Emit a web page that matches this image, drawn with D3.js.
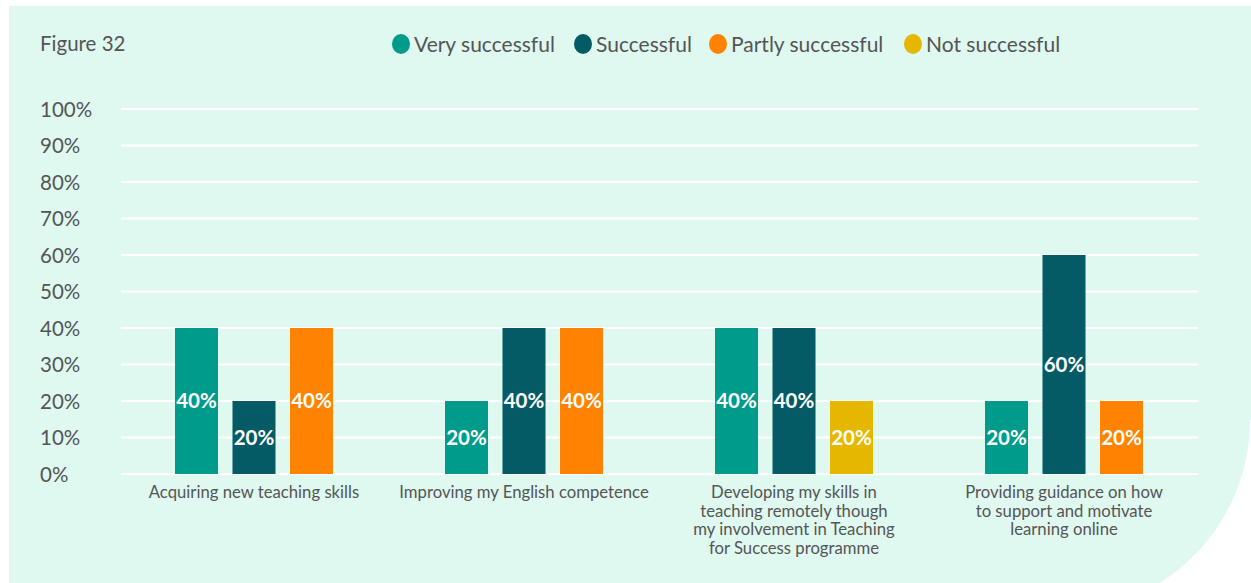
<!DOCTYPE html>
<html>
<head>
<meta charset="utf-8">
<script src="https://cdn.jsdelivr.net/npm/d3@7"></script>
<style>
  html, body { margin: 0; padding: 0; background: #ffffff; }
  svg { display: block; }
  text { font-family: Lato, "Open Sans", sans-serif; }
</style>
</head>
<body>
<svg id="chart" width="1251" height="583"></svg>
<script>
const categories = [
  ["Acquiring new teaching skills"],
  ["Improving my English competence"],
  ["Developing my skills in", "teaching remotely though", "my involvement in Teaching", "for Success programme"],
  ["Providing guidance on how", "to support and motivate", "learning online"]
];
const seriesNames = ["Very successful", "Successful", "Partly successful", "Not successful"];
const seriesColors = ["#009b8a", "#045b66", "#ff8200", "#e6b700"];
// Each group: [series index, value in %]
const groupValues = [
  [[0, 40], [1, 20], [2, 40]],
  [[0, 20], [1, 40], [2, 40]],
  [[0, 40], [1, 40], [3, 20]],
  [[0, 20], [1, 60], [2, 20]]
];
const yTicks = [0, 10, 20, 30, 40, 50, 60, 70, 80, 90, 100];

const W = 1251, H = 583;
const svg = d3.select("#chart");

// Panel with a large rounded bottom-right corner
const px = 9, py = 6, R = 192, cy = 420;
const panel = d3.path();
panel.moveTo(px, py);
panel.lineTo(W + 10, py);
panel.lineTo(W + 10, cy);
panel.lineTo(W - 1, cy);
panel.arc(W - 1 - R, cy, R, 0, Math.PI / 2, false);
panel.lineTo(px, cy + R);
panel.closePath();
svg.append("path").attr("d", panel.toString()).attr("fill", "#dff8f0");

const margin = { left: 121, right: 1198, top: 109, bottom: 474 };

const y = d3.scaleLinear().domain([0, 100]).range([margin.bottom, margin.top]);
const x0 = d3.scaleBand().domain(d3.range(categories.length))
  .range([119, 1199]).paddingInner(0).paddingOuter(0);
const x1 = d3.scaleBand().domain([0, 1, 2])
  .range([-79, 79]).paddingInner(0.252).paddingOuter(0);

// Gridlines
svg.append("g")
  .selectAll("line")
  .data(yTicks)
  .join("line")
  .attr("x1", margin.left).attr("x2", margin.right)
  .attr("y1", d => y(d)).attr("y2", d => y(d))
  .attr("stroke", "#ffffff").attr("stroke-width", 2);

// Y axis labels
const yAxis = d3.axisLeft(y).tickValues(yTicks).tickFormat(d => d + "%").tickSize(0);
const yg = svg.append("g").attr("transform", `translate(40,0)`).call(yAxis);
yg.select(".domain").remove();
yg.selectAll("text")
  .attr("x", 0).attr("dy", "0.36em")
  .attr("text-anchor", "start")
  .attr("fill", "#555555")
  .style("font-size", "20.5px")
  .style("font-family", "Lato, sans-serif");

// Bars
const groups = svg.append("g")
  .selectAll("g")
  .data(groupValues)
  .join("g")
  .attr("transform", (d, i) => `translate(${x0(i) + x0.bandwidth() / 2},0)`);

groups.selectAll("rect")
  .data(d => d)
  .join("rect")
  .attr("x", (d, j) => x1(j))
  .attr("width", x1.bandwidth())
  .attr("y", d => y(d[1]))
  .attr("height", d => y(0) - y(d[1]))
  .attr("fill", d => seriesColors[d[0]]);

groups.selectAll("text.val")
  .data(d => d)
  .join("text")
  .attr("class", "val")
  .attr("x", (d, j) => x1(j) + x1.bandwidth() / 2)
  .attr("y", d => (y(d[1]) + y(0)) / 2)
  .attr("dy", "0.36em")
  .attr("text-anchor", "middle")
  .attr("fill", "#ffffff")
  .style("font-size", "20.5px")
  .style("font-weight", "700")
  .text(d => d[1] + "%");

// Category labels
const cat = svg.append("g")
  .selectAll("text")
  .data(categories)
  .join("text")
  .attr("x", (d, i) => x0(i) + x0.bandwidth() / 2)
  .attr("y", 498)
  .attr("text-anchor", "middle")
  .attr("fill", "#555555")
  .style("font-size", "16.7px");
cat.selectAll("tspan")
  .data(d => d)
  .join("tspan")
  .attr("x", function () { return d3.select(this.parentNode).attr("x"); })
  .attr("dy", (d, k) => k === 0 ? 0 : 18.7)
  .text(d => d);

// Title
svg.append("text")
  .attr("x", 40).attr("y", 51)
  .attr("fill", "#555555")
  .style("font-size", "20.5px")
  .text("Figure 32");

// Legend
const legendX = [401, 583, 718, 913];
const leg = svg.append("g")
  .selectAll("g")
  .data(seriesNames)
  .join("g")
  .attr("transform", (d, i) => `translate(${legendX[i]},44)`);
leg.append("ellipse").attr("rx", 9).attr("ry", 10).attr("fill", (d, i) => seriesColors[i]);
leg.append("text")
  .attr("x", 13).attr("dy", "0.36em")
  .attr("fill", "#555555")
  .style("font-size", "21px")
  .text(d => d);
</script>
</body>
</html>
